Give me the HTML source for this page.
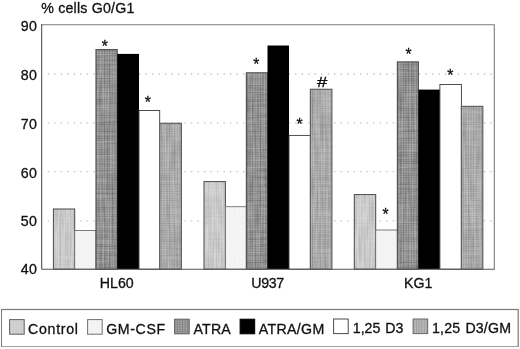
<!DOCTYPE html>
<html><head><meta charset="utf-8"><title>% cells G0/G1</title>
<style>
html,body{margin:0;padding:0;background:#fff;}
body{width:520px;height:349px;overflow:hidden;}
svg{display:block;}
text{font-family:"Liberation Sans",Arial,Helvetica,sans-serif;fill:#111;stroke:#111;stroke-width:0.3px;}
</style></head><body>
<svg width="520" height="349" viewBox="0 0 520 349">
<defs>
<pattern id="p0" width="2.6" height="2.3" patternUnits="userSpaceOnUse"><rect width="3" height="3" fill="#d8d8d8"/><rect width="0.9" height="3" fill="#c6c6c6"/><rect width="3" height="0.8" fill="#cccccc"/></pattern>
<pattern id="p1" width="2.6" height="2.3" patternUnits="userSpaceOnUse"><rect width="3" height="3" fill="#f8f8f8"/><rect width="0.9" height="3" fill="#efefef"/><rect width="3" height="0.8" fill="#f2f2f2"/></pattern>
<pattern id="p2" width="2.6" height="2.3" patternUnits="userSpaceOnUse"><rect width="3" height="3" fill="#acacac"/><rect width="1.0" height="3" fill="#7e7e7e"/><rect width="3" height="0.9" fill="#888888"/></pattern>
<pattern id="p5" width="2.6" height="2.3" patternUnits="userSpaceOnUse"><rect width="3" height="3" fill="#c2c2c2"/><rect width="1.0" height="3" fill="#9c9c9c"/><rect width="3" height="0.9" fill="#a6a6a6"/></pattern>
<filter id="nz" x="0" y="0" width="100%" height="100%" color-interpolation-filters="sRGB"><feTurbulence type="fractalNoise" baseFrequency="0.42 0.035" numOctaves="1" seed="7" result="t"/><feColorMatrix in="t" type="matrix" values="0 0 0 0 0  0 0 0 0 0  0 0 0 0 0  2.4 0 0 0 -0.85" result="a"/><feComposite in="a" in2="SourceGraphic" operator="in"/></filter>
<filter id="nw" x="0" y="0" width="100%" height="100%" color-interpolation-filters="sRGB"><feTurbulence type="fractalNoise" baseFrequency="0.035 0.42" numOctaves="1" seed="11" result="t"/><feColorMatrix in="t" type="matrix" values="0 0 0 0 1  0 0 0 0 1  0 0 0 0 1  0 2.4 0 0 -0.85" result="a"/><feComposite in="a" in2="SourceGraphic" operator="in"/></filter>
<filter id="soft" x="0" y="0" width="100%" height="100%"><feGaussianBlur stdDeviation="0.32"/></filter>
</defs>
<rect width="520" height="349" fill="#fff"/>

<g filter="url(#soft)">
<line x1="47.7" x2="492.0" y1="220.9" y2="220.9" stroke="#c2c2c2" stroke-width="1.3" stroke-dasharray="1.4 5.11"/>
<line x1="47.7" x2="492.0" y1="171.7" y2="171.7" stroke="#c2c2c2" stroke-width="1.3" stroke-dasharray="1.4 5.11"/>
<line x1="47.7" x2="492.0" y1="122.9" y2="122.9" stroke="#c2c2c2" stroke-width="1.3" stroke-dasharray="1.4 5.11"/>
<line x1="47.7" x2="492.0" y1="74.0" y2="74.0" stroke="#c2c2c2" stroke-width="1.3" stroke-dasharray="1.4 5.11"/>
<path d="M41.9 24.8 H494.3 V269.2" fill="none" stroke="#7c7c7c" stroke-width="1.1"/>
<rect x="53.40" y="209.0" width="21.30" height="60.2" fill="url(#p0)" stroke="#484848" stroke-width="1.0"/>
<rect x="54.00" y="209.6" width="20.10" height="59.0" fill="#000" filter="url(#nz)" opacity="0.11"/>
<rect x="54.00" y="209.6" width="20.10" height="59.0" fill="#fff" filter="url(#nw)" opacity="0.11"/>
<rect x="74.70" y="230.5" width="21.30" height="38.7" fill="url(#p1)" stroke="#707070" stroke-width="0.9"/>
<rect x="96.00" y="49.6" width="21.20" height="219.6" fill="url(#p2)" stroke="#555" stroke-width="1.2"/>
<rect x="96.60" y="50.2" width="20.00" height="218.4" fill="#000" filter="url(#nz)" opacity="0.18"/>
<rect x="96.60" y="50.2" width="20.00" height="218.4" fill="#fff" filter="url(#nw)" opacity="0.18"/>
<rect x="117.20" y="53.9" width="21.80" height="215.3" fill="#000"/>
<rect x="139.00" y="110.5" width="20.70" height="158.7" fill="#fff" stroke="#3a3a3a" stroke-width="0.9"/>
<rect x="159.70" y="123.3" width="21.70" height="145.9" fill="url(#p5)" stroke="#606060" stroke-width="1.2"/>
<rect x="160.30" y="123.9" width="20.50" height="144.7" fill="#000" filter="url(#nz)" opacity="0.14"/>
<rect x="160.30" y="123.9" width="20.50" height="144.7" fill="#fff" filter="url(#nw)" opacity="0.14"/>
<rect x="204.00" y="181.6" width="21.40" height="87.6" fill="url(#p0)" stroke="#484848" stroke-width="1.0"/>
<rect x="204.60" y="182.2" width="20.20" height="86.4" fill="#000" filter="url(#nz)" opacity="0.11"/>
<rect x="204.60" y="182.2" width="20.20" height="86.4" fill="#fff" filter="url(#nw)" opacity="0.11"/>
<rect x="225.40" y="206.7" width="21.00" height="62.5" fill="url(#p1)" stroke="#707070" stroke-width="0.9"/>
<rect x="246.40" y="72.8" width="21.10" height="196.4" fill="url(#p2)" stroke="#555" stroke-width="1.2"/>
<rect x="247.00" y="73.4" width="19.90" height="195.2" fill="#000" filter="url(#nz)" opacity="0.18"/>
<rect x="247.00" y="73.4" width="19.90" height="195.2" fill="#fff" filter="url(#nw)" opacity="0.18"/>
<rect x="267.50" y="45.5" width="21.50" height="223.7" fill="#000"/>
<rect x="289.00" y="135.4" width="21.40" height="133.8" fill="#fff" stroke="#3a3a3a" stroke-width="0.9"/>
<rect x="310.40" y="89.3" width="21.50" height="179.9" fill="url(#p5)" stroke="#606060" stroke-width="1.2"/>
<rect x="311.00" y="89.9" width="20.30" height="178.7" fill="#000" filter="url(#nz)" opacity="0.14"/>
<rect x="311.00" y="89.9" width="20.30" height="178.7" fill="#fff" filter="url(#nw)" opacity="0.14"/>
<rect x="354.30" y="194.6" width="21.40" height="74.6" fill="url(#p0)" stroke="#484848" stroke-width="1.0"/>
<rect x="354.90" y="195.2" width="20.20" height="73.4" fill="#000" filter="url(#nz)" opacity="0.11"/>
<rect x="354.90" y="195.2" width="20.20" height="73.4" fill="#fff" filter="url(#nw)" opacity="0.11"/>
<rect x="375.70" y="230.0" width="21.70" height="39.2" fill="url(#p1)" stroke="#707070" stroke-width="0.9"/>
<rect x="397.40" y="61.9" width="21.00" height="207.3" fill="url(#p2)" stroke="#555" stroke-width="1.2"/>
<rect x="398.00" y="62.5" width="19.80" height="206.1" fill="#000" filter="url(#nz)" opacity="0.18"/>
<rect x="398.00" y="62.5" width="19.80" height="206.1" fill="#fff" filter="url(#nw)" opacity="0.18"/>
<rect x="418.40" y="89.6" width="21.50" height="179.6" fill="#000"/>
<rect x="439.90" y="84.5" width="21.50" height="184.7" fill="#fff" stroke="#3a3a3a" stroke-width="0.9"/>
<rect x="461.40" y="106.4" width="21.40" height="162.8" fill="url(#p5)" stroke="#606060" stroke-width="1.2"/>
<rect x="462.00" y="107.0" width="20.20" height="161.6" fill="#000" filter="url(#nz)" opacity="0.14"/>
<rect x="462.00" y="107.0" width="20.20" height="161.6" fill="#fff" filter="url(#nw)" opacity="0.14"/>
<line x1="41.7" x2="41.7" y1="24.2" y2="269.2" stroke="#404040" stroke-width="1.0"/>
<line x1="41.4" x2="494.6" y1="269.2" y2="269.2" stroke="#555" stroke-width="1.1"/>
<rect x="1.4" y="309.5" width="516.8" height="37.4" fill="#fff" stroke="#7a7a7a" stroke-width="1.2"/>
<rect x="9.6" y="319.6" width="14.6" height="14.6" fill="url(#p0)" stroke="#606060" stroke-width="1"/>
<rect x="87.6" y="319.6" width="14.6" height="14.6" fill="url(#p1)" stroke="#707070" stroke-width="1"/>
<rect x="174.6" y="319.2" width="14.6" height="14.6" fill="url(#p2)" stroke="#606060" stroke-width="1"/>
<rect x="240.1" y="319.2" width="14.6" height="14.6" fill="#000" stroke="#000" stroke-width="1"/>
<rect x="333.6" y="319.0" width="14.6" height="14.6" fill="#fff" stroke="#4a4a4a" stroke-width="1"/>
<rect x="413.1" y="319.0" width="14.6" height="14.6" fill="url(#p5)" stroke="#686868" stroke-width="1"/>
</g>
<text x="20.7" y="274.2" font-size="14.2" textLength="16.1" lengthAdjust="spacing">40</text>
<text x="20.7" y="226.1" font-size="14.2" textLength="16.1" lengthAdjust="spacing">50</text>
<text x="20.7" y="177.5" font-size="14.2" textLength="16.1" lengthAdjust="spacing">60</text>
<text x="20.7" y="128.6" font-size="14.2" textLength="16.1" lengthAdjust="spacing">70</text>
<text x="20.7" y="80.0" font-size="14.2" textLength="16.1" lengthAdjust="spacing">80</text>
<text x="20.7" y="30.9" font-size="14.2" textLength="16.1" lengthAdjust="spacing">90</text>
<text x="41.2" y="12.9" font-size="14.2" textLength="93.2" lengthAdjust="spacing">% cells G0/G1</text>
<text x="99.8" y="288" font-size="14.2">HL60</text>
<text x="251.2" y="287.8" font-size="14.2" textLength="33.0" lengthAdjust="spacing">U937</text>
<text x="404" y="288" font-size="14.2">KG1</text>
<text x="104.85" y="52.00" font-size="15.7" text-anchor="middle" stroke-width="0.55">*</text>
<text x="147.85" y="108.35" font-size="15.7" text-anchor="middle" stroke-width="0.55">*</text>
<text x="256.4" y="69.50" font-size="15.7" text-anchor="middle" stroke-width="0.55">*</text>
<text x="299.55" y="129.50" font-size="15.7" text-anchor="middle" stroke-width="0.55">*</text>
<text x="408.65" y="59.80" font-size="15.7" text-anchor="middle" stroke-width="0.55">*</text>
<text x="450.4" y="80.50" font-size="15.7" text-anchor="middle" stroke-width="0.55">*</text>
<text x="385.65" y="219.70" font-size="15.7" text-anchor="middle" stroke-width="0.55">*</text>
<text x="322" y="87.2" font-size="14" font-style="italic" text-anchor="middle" textLength="10.3" lengthAdjust="spacingAndGlyphs" stroke-width="0.5">#</text>
<text x="28.1" y="333.8" font-size="14.2" textLength="49.9" lengthAdjust="spacing">Control</text>
<text x="106.2" y="333.8" font-size="14.2" textLength="58.9" lengthAdjust="spacing">GM-CSF</text>
<text x="193.4" y="333.5" font-size="14.2" textLength="37.4" lengthAdjust="spacing">ATRA</text>
<text x="258.7" y="333.5" font-size="14.2" textLength="65.6" lengthAdjust="spacing">ATRA/GM</text>
<text x="352.8" y="333.3" font-size="14.2" textLength="50.5" lengthAdjust="spacing" word-spacing="1.1">1,25 D3</text>
<text x="432.0" y="333.3" font-size="14.2" textLength="79.0" lengthAdjust="spacing" word-spacing="1.1">1,25 D3/GM</text>
</svg>
</body></html>
